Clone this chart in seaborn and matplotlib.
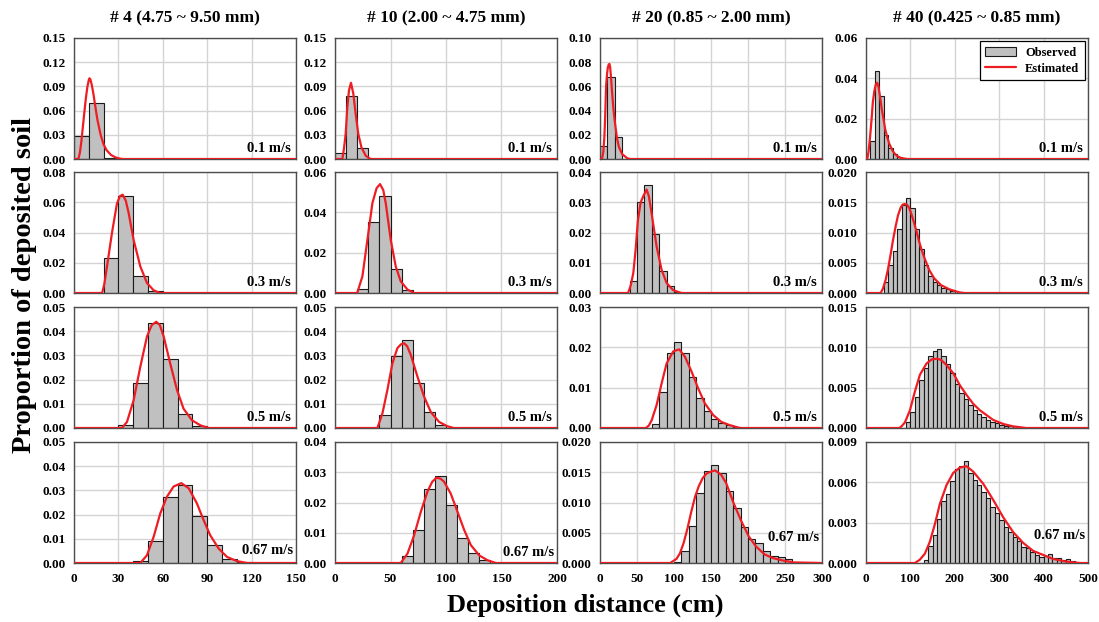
import numpy as np
import pandas as pd
import matplotlib
matplotlib.use("Agg")
import matplotlib.pyplot as plt
import seaborn as sns
from matplotlib.ticker import FixedLocator, FormatStrFormatter
from matplotlib.patches import Patch
from matplotlib.lines import Line2D

# ---- labels ----
sieves = ["# 4 (4.75 ~ 9.50 mm)", "# 10 (2.00 ~ 4.75 mm)",
          "# 20 (0.85 ~ 2.00 mm)", "# 40 (0.425 ~ 0.85 mm)"]
speeds = ["0.1 m/s", "0.3 m/s", "0.5 m/s", "0.67 m/s"]
bin_width = 10

# axis ranges (column = sieve, row = flow velocity)
x_max = [150, 200, 300, 500]
x_step = [30, 50, 50, 100]
y_top = [[0.15, 0.08, 0.05, 0.05],
         [0.15, 0.06, 0.05, 0.04],
         [0.10, 0.04, 0.03, 0.020],
         [0.06, 0.020, 0.015, 0.009]]
y_step = [[0.03, 0.02, 0.01, 0.01],
          [0.03, 0.02, 0.01, 0.01],
          [0.02, 0.01, 0.01, 0.005],
          [0.02, 0.005, 0.005, 0.003]]

# ---- observed proportions (10 cm bins, first bin edge in *_start) ----
no4_start = [0, 20, 30, 40]
no4_obs = [[0.028, 0.070, 0.001],
           [0.023, 0.064, 0.011, 0.001],
           [0.0012, 0.0184, 0.0434, 0.0285, 0.0056, 0.0008],
           [0.0008, 0.0090, 0.0271, 0.0323, 0.0194, 0.0073, 0.0015, 0.0004]]

no10_start = [0, 20, 40, 60]
no10_obs = [[0.007, 0.0775, 0.014],
            [0.002, 0.0354, 0.0483, 0.0117, 0.0013],
            [0.0053, 0.0299, 0.0364, 0.0184, 0.0065, 0.0014],
            [0.0023, 0.0109, 0.0246, 0.0286, 0.0193, 0.0084, 0.0034, 0.0009]]

no20_start = [0, 40, 70, 100]
no20_obs = [[0.0108, 0.068, 0.0183],
            [0.0039, 0.030, 0.0356, 0.0196, 0.0072, 0.0022, 0.0004],
            [0.0011, 0.009, 0.0185, 0.0214, 0.0185, 0.0127, 0.0075, 0.0043,
             0.0023, 0.0012, 0.0007, 0.0003],
            [0.0002, 0.0020, 0.0061, 0.0115, 0.0152, 0.0162, 0.0149, 0.0119,
             0.0091, 0.0059, 0.0040, 0.0033, 0.0020, 0.0012, 0.0010, 0.0007]]

no40_start = [10, 40, 90, 130]
no40_obs = [[0.0088, 0.0435, 0.0312, 0.012, 0.0055, 0.0024, 0.001],
            [0.0019, 0.0046, 0.0069, 0.0106, 0.0146, 0.0157, 0.014, 0.0106,
             0.0072, 0.0047, 0.0028, 0.0019, 0.0013, 0.0009, 0.0006, 0.0003],
            [0.0007, 0.002, 0.0038, 0.0059, 0.0074, 0.0089, 0.0096, 0.0098,
             0.0089, 0.0079, 0.0068, 0.0055, 0.0044, 0.0036, 0.0028, 0.0022,
             0.0017, 0.0014, 0.001, 0.0007, 0.0006, 0.0004, 0.0003, 0.0003,
             0.0002, 0.0001],
            [0.00025, 0.0013, 0.0021, 0.0033, 0.0046, 0.0051, 0.0061, 0.0070,
             0.0072, 0.0076, 0.0067, 0.0062, 0.0058, 0.0053, 0.0048, 0.0042,
             0.0037, 0.0032, 0.0027, 0.0023, 0.0019, 0.0016, 0.0012, 0.0011,
             0.0008, 0.0006, 0.00045, 0.0005, 0.0007, 0.0004, 0.0004, 0.00025,
             0.0003, 0.00015]]

# ---- estimated curves ----
no4_fit_x = [[0, 3, 4, 5, 6, 7, 8, 9, 10, 10.4, 11, 12, 13, 14, 15, 16, 18, 20, 22, 25, 28, 31, 33, 150],
             [0, 19, 20.5, 22.3, 25.7, 29, 31, 32.9, 35, 36.9, 40.3, 44.8, 49.3, 53.8, 58, 150],
             [0, 32.4, 35.8, 40.3, 44.8, 49.3, 52.5, 55.6, 58, 60.6, 65, 69.6, 74, 79.7, 85.4, 91, 150],
             [0, 44.8, 49.3, 53.8, 58.3, 62.8, 67.3, 72.5, 77.5, 83, 87.6, 92, 97.7, 103.4, 110, 117, 150]]
no4_fit_y = [[0, 0, 0.008, 0.022, 0.040, 0.058, 0.075, 0.089, 0.098, 0.100, 0.099, 0.092, 0.082, 0.070,
              0.058, 0.047, 0.030, 0.018, 0.011, 0.005, 0.002, 0.0005, 0, 0],
             [0, 0, 0.006, 0.0176, 0.040, 0.059, 0.064, 0.065, 0.061, 0.053, 0.035, 0.0176, 0.0066,
              0.0018, 0, 0],
             [0, 0, 0.0025, 0.0115, 0.0253, 0.0378, 0.0425, 0.0439, 0.0425, 0.0378, 0.0267, 0.0157,
              0.008, 0.0032, 0.0011, 0, 0],
             [0, 0, 0.0032, 0.0108, 0.0205, 0.0274, 0.0316, 0.033, 0.0309, 0.0247, 0.0177, 0.0115,
              0.006, 0.0025, 0.0008, 0, 0]]

no10_fit_x = [[0, 6.6, 8, 9.6, 11.1, 12.6, 14.4, 16.5, 18.6, 21, 23.8, 27.7, 32, 200],
              [0, 20, 24.7, 29.2, 33.7, 37.5, 40.6, 43.5, 45.7, 50.2, 54.7, 59.2, 65.3, 71.3, 200],
              [0, 38.2, 42.7, 47.2, 51.7, 56.2, 59.5, 62.3, 65, 68.3, 74.3, 80.3, 86.3, 93.8, 101.3, 107, 200],
              [0, 59.2, 65.3, 71.3, 77.3, 83.3, 87.5, 91.4, 95, 98.2, 104.2, 110.4, 116.4, 122.4, 130,
               137.4, 145, 200]]
no10_fit_y = [[0, 0, 0.012, 0.031, 0.064, 0.085, 0.0945, 0.081, 0.056, 0.031, 0.0145, 0.004, 0, 0],
              [0, 0, 0.0083, 0.0264, 0.0446, 0.052, 0.054, 0.051, 0.0446, 0.0264, 0.0132, 0.0058,
               0.0017, 0, 0],
              [0, 0, 0.006, 0.0157, 0.0267, 0.033, 0.0346, 0.035, 0.0338, 0.0302, 0.0212, 0.0129,
               0.0066, 0.0025, 0.0007, 0, 0],
              [0, 0, 0.0031, 0.0092, 0.0169, 0.0236, 0.0268, 0.0282, 0.0279, 0.0269, 0.023, 0.0169,
               0.0109, 0.0059, 0.0025, 0.0009, 0, 0]]

no20_fit_x = [[0, 2.7, 4.5, 5.9, 7, 8.2, 9.5, 10.5, 11.7, 12.7, 13.7, 14.8, 16.4, 18.5, 20.9, 23,
               25.5, 30, 36.8, 41, 300],
              [0, 38, 41.5, 45, 48, 51.3, 55, 58.5, 63, 66, 69.7, 73, 76.5, 83.2, 90, 99, 110, 300],
              [0, 62, 66, 69.8, 76.5, 83.2, 90, 99, 107, 114.7, 123.7, 132.7, 141.7, 153, 164, 175.4, 189, 300],
              [0, 95, 103.5, 108, 113, 118.2, 123, 128.6, 133.5, 138.6, 144, 150, 155.5, 163.6, 170.5,
               180.5, 191, 201, 211, 222.7, 234, 247.7, 261, 300]]
no20_fit_y = [[0, 0, 0.006, 0.018, 0.035, 0.060, 0.070, 0.0753, 0.078, 0.0786, 0.076, 0.068, 0.0544,
               0.039, 0.0267, 0.017, 0.010, 0.004, 0.0006, 0, 0],
              [0, 0, 0.0025, 0.0066, 0.014, 0.0242, 0.030, 0.032, 0.0342, 0.032, 0.0264, 0.021, 0.0154,
               0.0077, 0.0033, 0.0009, 0, 0],
              [0, 0, 0.0006, 0.0019, 0.0057, 0.011, 0.016, 0.019, 0.0195, 0.0177, 0.014, 0.0098,
               0.0061, 0.0032, 0.0015, 0.0007, 0, 0],
              [0, 0, 0.0007, 0.0016, 0.0033, 0.0057, 0.0083, 0.011, 0.0127, 0.014, 0.0148, 0.0151,
               0.0153, 0.0146, 0.0132, 0.0099, 0.0069, 0.0044, 0.0027, 0.0014, 0.0008, 0.0004,
               0.0001, 0]]

no40_fit_x = [[0, 3, 6, 9.2, 12.7, 15.3, 18.7, 22, 25, 28, 32, 36, 39.7, 43, 47.3, 52, 58.8, 64,
               70.2, 78.6, 93, 500],
              [0, 33, 38, 44, 50, 55.3, 61, 66.7, 72, 78, 82.5, 87, 92, 97, 102.5, 108.3, 114, 119.7,
               125, 131, 142.4, 153.8, 169, 188, 210.6, 222, 500],
              [0, 75, 80, 87.7, 99, 110, 121.4, 136.4, 148, 160.4, 170, 181.4, 196.4, 211.4, 226.4,
               241.4, 256.4, 271.4, 286.4, 309, 331.4, 361, 500],
              [0, 110, 121.4, 132.7, 144, 155.2, 166.4, 181.4, 196.4, 211.4, 226.4, 241.4, 263.9,
               286.4, 309, 331.4, 353.9, 376.4, 399, 421.4, 451.4, 481.4, 500]]
no40_fit_y = [[0, 0, 0.004, 0.011, 0.020, 0.028, 0.0335, 0.037, 0.0378, 0.036, 0.0303, 0.024,
               0.0195, 0.015, 0.0112, 0.0078, 0.0045, 0.0028, 0.0015, 0.0005, 0, 0],
              [0, 0, 0.0007, 0.0021, 0.0041, 0.0063, 0.0088, 0.011, 0.0128, 0.0141, 0.0146, 0.0147,
               0.0146, 0.0141, 0.013, 0.0116, 0.0101, 0.0085, 0.0072, 0.0059, 0.0038, 0.0024,
               0.0013, 0.0006, 0.0001, 0, 0],
              [0, 0, 0.0002, 0.0007, 0.0022, 0.0045, 0.0066, 0.008, 0.0085, 0.0086, 0.0084, 0.0078,
               0.0068, 0.0053, 0.0041, 0.003, 0.0022, 0.0016, 0.001, 0.0005, 0.0002, 0, 0],
              [0, 0, 0.00025, 0.0007, 0.0016, 0.0029, 0.0044, 0.0058, 0.0067, 0.0071, 0.0072, 0.0068,
               0.0059, 0.0047, 0.0034, 0.0023, 0.0015, 0.0009, 0.0006, 0.0003, 0.0001, 0, 0]]

starts = [no4_start, no10_start, no20_start, no40_start]
observed = [no4_obs, no10_obs, no20_obs, no40_obs]
fit_x = [no4_fit_x, no10_fit_x, no20_fit_x, no40_fit_x]
fit_y = [no4_fit_y, no10_fit_y, no20_fit_y, no40_fit_y]

# ---- style ----
sns.set_style("white")
plt.rcParams['font.family'] = ['Liberation Serif', 'DejaVu Serif']
plt.rcParams['font.weight'] = 'bold'
plt.rcParams['text.color'] = 'black'

bar_color = '#c0c0c0'
red = '#ee1d24'
W, H = 1099, 622
col_left = [74, 335, 600, 866]
row_top = [38, 172, 307, 442]
ax_w, ax_h = 222, 121

fig = plt.figure(figsize=(W / 100, H / 100), dpi=100)

for c in range(4):
    for r in range(4):
        ax = fig.add_axes([col_left[c] / W, 1 - (row_top[r] + ax_h) / H, ax_w / W, ax_h / H])
        vals = observed[c][r]
        edges = starts[c][r] + bin_width * np.arange(len(vals) + 1)
        bars = pd.DataFrame({'dist': edges[:-1] + bin_width / 2, 'prop': vals})
        sns.histplot(data=bars, x='dist', weights='prop', bins=list(edges), stat='count',
                     color=bar_color, edgecolor='#1a1a1a', linewidth=0.8, alpha=1, ax=ax, zorder=2)
        sns.lineplot(x=fit_x[c][r], y=fit_y[c][r], color=red, linewidth=1.6, ax=ax, zorder=3)

        ax.set_xlim(0, x_max[c])
        ax.set_ylim(0, y_top[c][r])
        ax.xaxis.set_major_locator(FixedLocator(np.arange(0, x_max[c] + 1, x_step[c])))
        yt = np.round(np.arange(0, y_top[c][r] + y_step[c][r] / 2, y_step[c][r]), 4)
        ax.yaxis.set_major_locator(FixedLocator(yt))
        fmt = '%.3f' if y_step[c][r] < 0.01 else '%.2f'
        ax.yaxis.set_major_formatter(FormatStrFormatter(fmt))
        ax.set(xlabel='', ylabel='')
        ax.set_axisbelow(True)
        ax.grid(True, color='#d4d4d4', linewidth=1.0)
        ax.tick_params(length=0, labelsize=9.5, colors='black')
        ax.tick_params(axis='y', pad=6)
        ax.tick_params(axis='x', pad=7)
        if r < 3:
            ax.tick_params(labelbottom=False)
        for s in ax.spines.values():
            s.set_color('#4d4d4d')
            s.set_linewidth(1.0)

        ty = 0.09
        tx = 0.975
        if r == 3:
            tx = 0.985
            ty = [0.105, 0.09, 0.207, 0.23][c]
        ax.text(tx, ty, speeds[r], transform=ax.transAxes, ha='right', va='center',
                fontsize=10.5, fontweight='bold', color='black', zorder=5)

        if c == 3 and r == 0:
            handles = [Patch(facecolor=bar_color, edgecolor='#1a1a1a', linewidth=0.8, label='Observed'),
                       Line2D([], [], color=red, linewidth=1.6, label='Estimated')]
            leg = ax.legend(handles=handles, loc='upper right', frameon=True, fancybox=False,
                            framealpha=1, edgecolor='black', borderaxespad=0.25, borderpad=0.45,
                            labelspacing=0.3, handlelength=2.5, handletextpad=0.7,
                            prop={'size': 9, 'weight': 'bold'})
            leg.get_frame().set_linewidth(0.9)

    fig.text((col_left[c] + ax_w / 2) / W, 1 - 18 / H, sieves[c], ha='center', va='center',
             fontsize=12.5, fontweight='bold', color='black')

fig.text(25 / W, 1 - 285 / H, 'Proportion of deposited soil', rotation=90, ha='center',
         va='center', fontsize=20.5, fontweight='bold', color='black')
fig.text(585 / W, 1 - 605 / H, 'Deposition distance (cm)', ha='center', va='center',
         fontsize=19, fontweight='bold', color='black')

fig.savefig('out.png', dpi=100)
